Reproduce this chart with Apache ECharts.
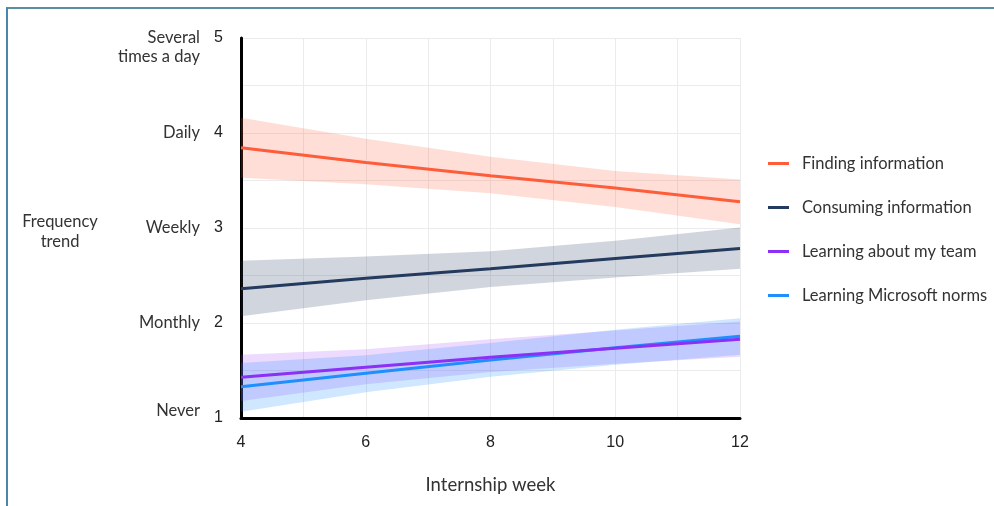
<!DOCTYPE html>
<html>
<head>
<meta charset="utf-8">
<script src="https://cdn.jsdelivr.net/npm/echarts@6/dist/echarts.min.js"></script>
<style>
html,body{margin:0;padding:0;background:#fff;}
#frame{position:absolute;left:6px;top:7px;width:990px;height:500px;border-top:2px solid #5A8FA2;border-left:2px solid #4A86A8;}
#chart{position:absolute;left:0;top:0;width:994px;height:506px;}
</style>
</head>
<body>
<div id="frame"></div>
<div id="chart"></div>
<script>
const weeks = [4, 6, 8, 10, 12];
const xTickLabels = ['4', '6', '8', '10', '12'];
const yTickValues = [1, 2, 3, 4, 5];
const yWordLabels = ['Never', 'Monthly', 'Weekly', 'Daily', 'Several\ntimes a day'];
const seriesNames = ['Finding information', 'Consuming information', 'Learning about my team', 'Learning Microsoft norms'];

const findingMean  = [3.845, 3.69, 3.55, 3.42, 3.277];
const findingUpper = [4.16, 3.94, 3.75, 3.60, 3.51];
const findingLower = [3.53, 3.46, 3.365, 3.22, 3.04];

const consumingMean  = [2.36, 2.47, 2.57, 2.68, 2.785];
const consumingUpper = [2.655, 2.70, 2.755, 2.865, 3.005];
const consumingLower = [2.07, 2.24, 2.38, 2.48, 2.57];

const teamMean  = [1.43, 1.535, 1.64, 1.735, 1.83];
const teamUpper = [1.665, 1.725, 1.83, 1.92, 2.015];
const teamLower = [1.18, 1.355, 1.485, 1.57, 1.645];

const normsMean  = [1.33, 1.47, 1.61, 1.74, 1.86];
const normsUpper = [1.58, 1.66, 1.79, 1.93, 2.05];
const normsLower = [1.065, 1.27, 1.435, 1.56, 1.665];

const lineColors = ['#FF5C39', '#243A5E', '#8C30F5', '#1F8FFF'];
const bandColors = ['rgba(255,92,57,0.2)', 'rgba(36,58,94,0.21)', 'rgba(165,70,255,0.2)', 'rgba(30,144,255,0.21)'];

const means = [findingMean, consumingMean, teamMean, normsMean];
const uppers = [findingUpper, consumingUpper, teamUpper, normsUpper];
const lowers = [findingLower, consumingLower, teamLower, normsLower];

function pairs(xs, ys) { return xs.map((x, i) => [x, ys[i]]); }

const series = [];
for (let k = 0; k < 4; k++) {
  const kk = k;
  series.push({
    name: seriesNames[k] + ' band',
    type: 'custom',
    data: [[weeks[0], lowers[k][0]]],
    encode: { x: 0, y: 1 },
    silent: true,
    z: 1,
    renderItem: function (params, api) {
      const pts = [];
      for (let i = 0; i < weeks.length; i++) pts.push(api.coord([weeks[i], uppers[kk][i]]));
      for (let i = weeks.length - 1; i >= 0; i--) pts.push(api.coord([weeks[i], lowers[kk][i]]));
      return { type: 'polygon', shape: { points: pts }, style: { fill: bandColors[kk], stroke: null } };
    }
  });
}
for (let k = 0; k < 4; k++) {
  series.push({
    name: seriesNames[k],
    type: 'line',
    data: pairs(weeks, means[k]),
    symbol: 'none',
    color: lineColors[k],
    lineStyle: { color: lineColors[k], width: 3 },
    z: 3 + (k === 2 ? 1 : 0)
  });
}

const chart = echarts.init(document.getElementById('chart'), null, { renderer: 'canvas' });
chart.setOption({
  animation: false,
  backgroundColor: 'transparent',
  grid: { left: 241, right: 254, top: 38, bottom: 88 },
  legend: {
    data: seriesNames,
    orient: 'vertical',
    left: 763,
    top: 150,
    itemGap: 27,
    icon: 'rect',
    itemWidth: 21,
    itemHeight: 3,
    textStyle: { fontFamily: 'Lato', fontSize: 16.5, color: '#333', padding: [0, 0, 0, 8] }
  },
  graphic: [{
    type: 'text',
    x: 60,
    y: 232,
    style: {
      text: 'Frequency\ntrend',
      align: 'center',
      verticalAlign: 'middle',
      fontFamily: 'Lato',
      fontSize: 16.5,
      lineHeight: 20,
      fill: '#333'
    }
  }],
  xAxis: {
    type: 'value',
    min: 4,
    max: 12,
    interval: 1,
    name: 'Internship week',
    nameLocation: 'middle',
    nameGap: 58,
    nameTextStyle: { fontFamily: 'Lato', fontSize: 18.5, color: '#333' },
    axisLine: { show: true, lineStyle: { color: '#000', width: 3 } },
    axisTick: { show: false },
    axisLabel: {
      margin: 17,
      fontFamily: 'Liberation Sans',
      fontSize: 16,
      color: '#222',
      formatter: v => { const i = weeks.indexOf(v); return i >= 0 ? xTickLabels[i] : ''; }
    },
    splitLine: { show: true, lineStyle: { color: '#EBEBEB', width: 1 } }
  },
  yAxis: [{
    type: 'value',
    min: 1,
    max: 5,
    interval: 0.5,
    axisLine: { show: true, lineStyle: { color: '#000', width: 3 } },
    axisTick: { show: false },
    axisLabel: {
      margin: 18,
      fontFamily: 'Liberation Sans',
      fontSize: 16,
      color: '#222',
      formatter: v => { const i = yTickValues.indexOf(v); return i >= 0 ? String(yTickValues[i]) : ''; }
    },
    splitLine: { show: true, lineStyle: { color: '#EBEBEB', width: 1 } }
  }, {
    type: 'value',
    position: 'left',
    min: 1,
    max: 5,
    interval: 0.5,
    axisLine: { show: false },
    axisTick: { show: false },
    splitLine: { show: false },
    axisLabel: {
      margin: 41,
      fontFamily: 'Lato',
      fontSize: 16.5,
      color: '#333',
      lineHeight: 19,
      formatter: v => {
        const i = yTickValues.indexOf(v);
        if (i < 0) return '';
        if (i === 4) return ' \n' + yWordLabels[4];
        if (i === 0) return '{low|' + yWordLabels[0] + '}';
        return yWordLabels[i];
      },
      rich: {
        low: { fontFamily: 'Lato', fontSize: 16.5, color: '#333', lineHeight: 19, padding: [0, 0, 14, 0] }
      }
    }
  }],
  series: series
});
</script>
</body>
</html>
